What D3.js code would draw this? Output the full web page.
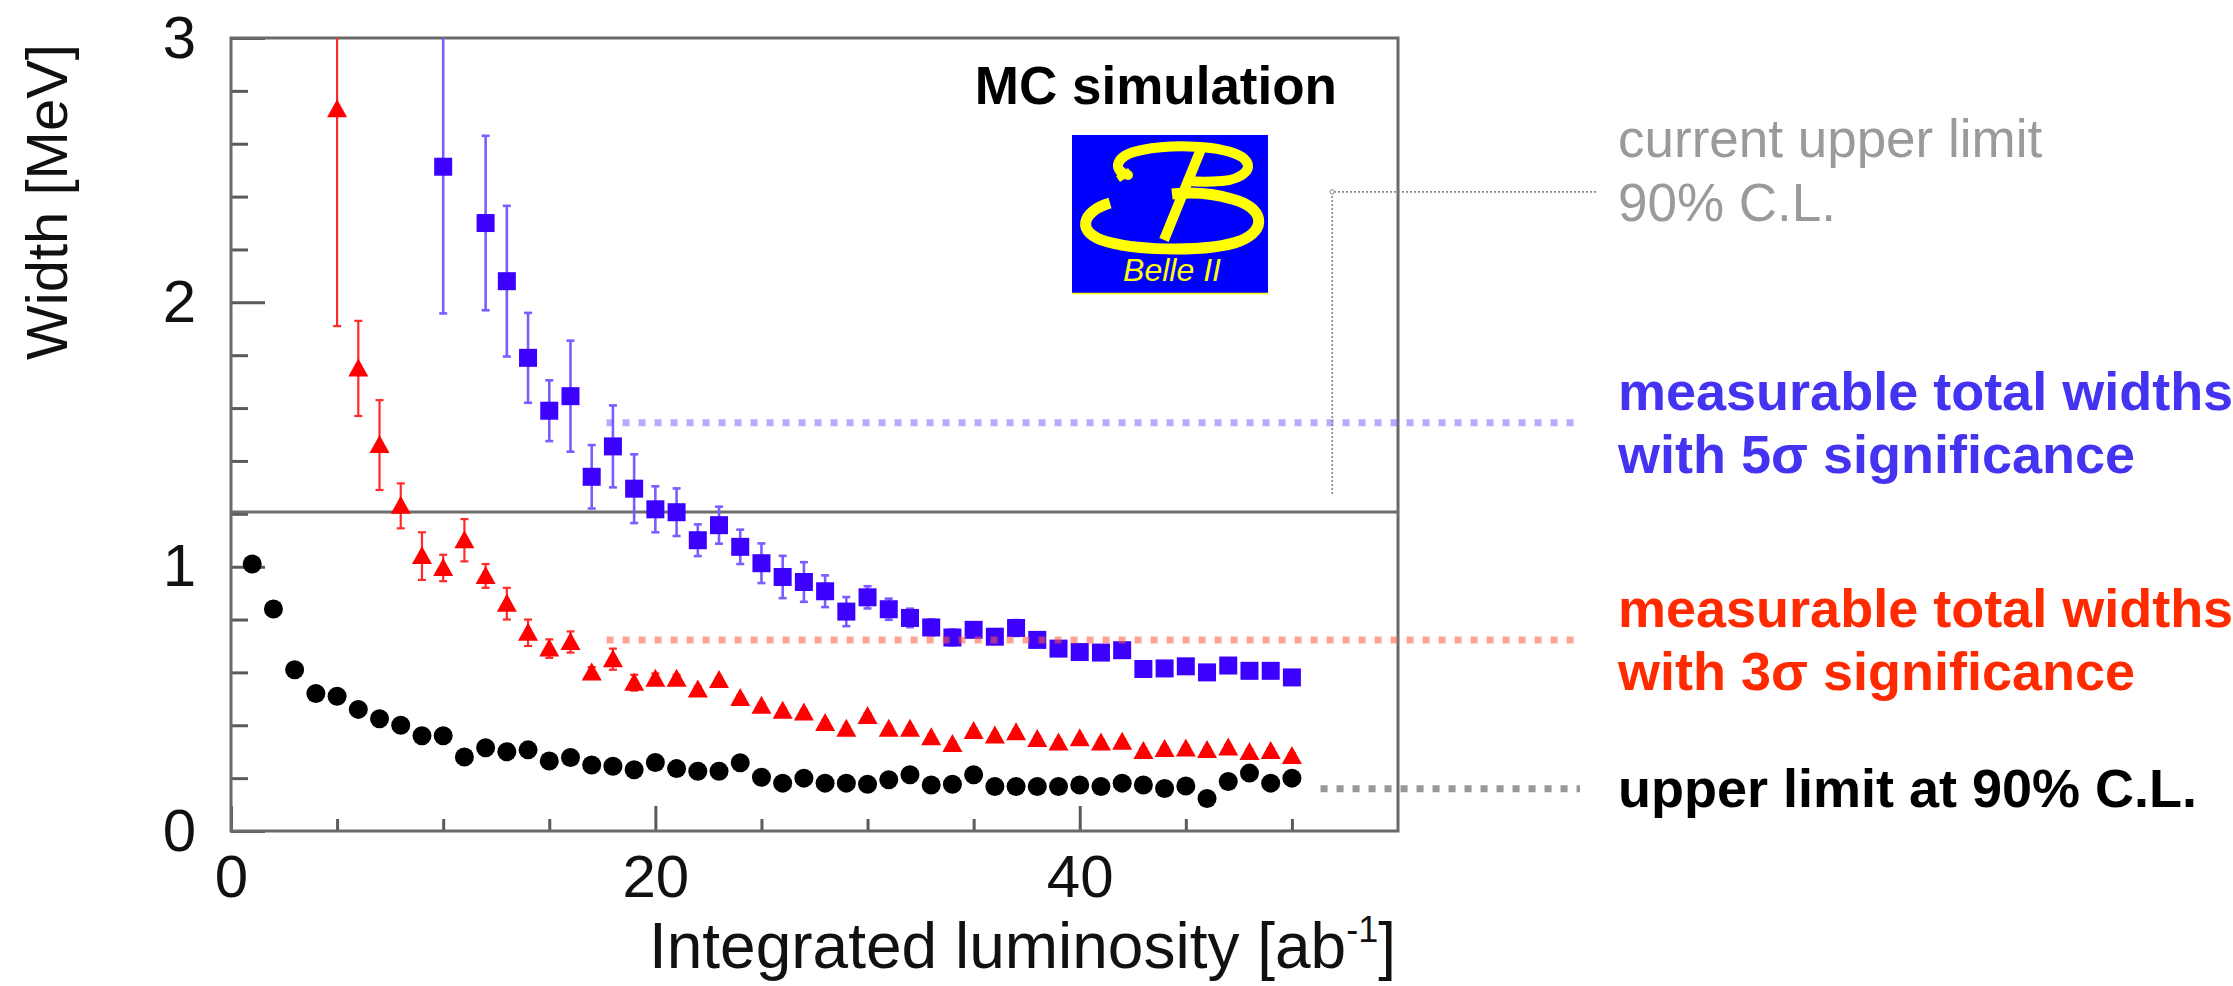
<!DOCTYPE html>
<html>
<head>
<meta charset="utf-8">
<script src="https://cdn.jsdelivr.net/npm/d3@7"></script>
<style>
  body { margin: 0; background: #fff; }
  svg { display: block; }
  text { font-family: "Liberation Sans", Arial, Helvetica, sans-serif; }
</style>
</head>
<body>
<svg id="chart" width="2233" height="986"></svg>
<script>
// integrated luminosity [ab^-1] of each toy point
const lumi = [1, 2, 3, 4, 5, 6, 7, 8, 9, 10, 11, 12, 13, 14, 15, 16, 17, 18, 19, 20,
              21, 22, 23, 24, 25, 26, 27, 28, 29, 30, 31, 32, 33, 34, 35, 36, 37, 38, 39, 40,
              41, 42, 43, 44, 45, 46, 47, 48, 49, 50];

// upper limit at 90% C.L. (black circles)
const upperLimit = [1.01, 0.84, 0.61, 0.52, 0.51, 0.46, 0.425, 0.40, 0.36, 0.36,
                    0.28, 0.315, 0.30, 0.307, 0.265, 0.278, 0.25, 0.245, 0.232, 0.259,
                    0.236, 0.226, 0.226, 0.258, 0.203, 0.181, 0.20, 0.181, 0.181, 0.177,
                    0.194, 0.213, 0.174, 0.177, 0.213, 0.168, 0.168, 0.168, 0.168, 0.174,
                    0.168, 0.181, 0.174, 0.161, 0.17, 0.123, 0.187, 0.219, 0.181, 0.20];

// measurable width with 3 sigma (red triangles); null = off scale
const width3s = [null, null, null, null, 2.73, 1.75, 1.46, 1.23, 1.04, 0.995,
                 1.10, 0.965, 0.86, 0.75, 0.69, 0.715, 0.60, 0.65, 0.561, 0.576,
                 0.576, 0.535, 0.571, 0.503, 0.474, 0.455, 0.448, 0.409, 0.387, 0.435,
                 0.387, 0.387, 0.355, 0.329, 0.378, 0.361, 0.374, 0.348, 0.335, 0.351,
                 0.335, 0.338, 0.303, 0.31, 0.312, 0.306, 0.316, 0.299, 0.303, 0.284];
const width3sErr = [0, 0, 0, 0, 0.82, 0.18, 0.17, 0.085, 0.09, 0.05,
                    0.08, 0.045, 0.06, 0.05, 0.035, 0.04, 0.02, 0.04, 0.03, 0.02,
                    0.015, 0.012, 0.01, 0.01, 0.01, 0.01, 0.01, 0.01, 0.01, 0.01,
                    0.01, 0.01, 0.01, 0.01, 0.01, 0.01, 0.01, 0.01, 0.01, 0.01,
                    0.01, 0.01, 0.01, 0.01, 0.01, 0.01, 0.01, 0.01, 0.01, 0.01];

// measurable width with 5 sigma (blue squares)
const width5s = [null, null, null, null, null, null, null, null, null, 2.513,
                 null, 2.30, 2.08, 1.79, 1.59, 1.645, 1.34, 1.455, 1.295, 1.217,
                 1.206, 1.10, 1.157, 1.075, 1.013, 0.961, 0.942, 0.907, 0.83, 0.884,
                 0.839, 0.806, 0.77, 0.732, 0.761, 0.735, 0.768, 0.723, 0.69, 0.677,
                 0.675, 0.684, 0.613, 0.615, 0.623, 0.60, 0.626, 0.606, 0.606, 0.581];
const width5sErr = [0, 0, 0, 0, 0, 0, 0, 0, 0, 0.555,
                    0, 0.33, 0.285, 0.17, 0.115, 0.21, 0.12, 0.155, 0.13, 0.087,
                    0.09, 0.06, 0.07, 0.065, 0.075, 0.08, 0.075, 0.06, 0.055, 0.042,
                    0.04, 0.035, 0.03, 0.03, 0.025, 0.02, 0.03, 0.02, 0.015, 0.015,
                    0.015, 0.012, 0.01, 0.01, 0.01, 0.01, 0.01, 0.01, 0.01, 0.01];

const currentLimit = 1.207;          // current upper limit 90% C.L. [MeV]
const level5s = 1.544;               // dotted guide levels
const level3s = 0.723;
const levelUL = 0.16;

const xMajorTicks = [0, 20, 40];
const xMinorTicks = [5, 10, 15, 25, 30, 35, 45, 50];
const yMajorTicks = [0, 1, 2, 3];
const yMinorTicks = [0.2, 0.4, 0.6, 0.8, 1.2, 1.4, 1.6, 1.8, 2.2, 2.4, 2.6, 2.8];

const svg = d3.select("#chart");
svg.append("rect").attr("width", 2233).attr("height", 986).attr("fill", "#fff");

const x = d3.scaleLinear().domain([0, 55]).range([231, 1398]);
const y = d3.scaleLinear().domain([0, 3]).range([831, 38]);

const axisColor = "#5a5a5a";

// --- axes (ticks point into the frame, ROOT style) ---
const gy = svg.append("g").attr("transform", `translate(${x(0)},0)`);
gy.call(d3.axisLeft(y).tickValues(yMajorTicks).tickSizeInner(-34).tickSizeOuter(0)
        .tickPadding(35).tickFormat(d3.format("d")));
gy.append("g").call(d3.axisLeft(y).tickValues(yMinorTicks).tickSizeInner(-17)
        .tickSizeOuter(0).tickFormat(""));

const gx = svg.append("g").attr("transform", `translate(0,${y(0)})`);
gx.call(d3.axisBottom(x).tickValues(xMajorTicks).tickSizeInner(-25).tickSizeOuter(0)
        .tickPadding(23).tickFormat(d3.format("d")));
gx.append("g").call(d3.axisBottom(x).tickValues(xMinorTicks).tickSizeInner(-12)
        .tickSizeOuter(0).tickFormat(""));

svg.selectAll(".domain").remove();
svg.selectAll(".tick line").attr("stroke", axisColor).attr("stroke-width", 3);
svg.selectAll(".tick text").attr("font-size", 60).attr("fill", "#111")
   .attr("font-family", "'Liberation Sans', Arial, sans-serif");

// frame
svg.append("rect")
   .attr("x", x(0)).attr("y", y(3))
   .attr("width", x(55) - x(0)).attr("height", y(0) - y(3))
   .attr("fill", "none").attr("stroke", "#6a6a6a").attr("stroke-width", 3);

// axis titles
svg.append("text")
   .attr("transform", "translate(67,202) rotate(-90)")
   .attr("text-anchor", "middle").attr("font-size", 58).attr("fill", "#111")
   .text("Width [MeV]");

const xt = svg.append("text")
   .attr("x", x(55) - 2).attr("y", 968).attr("text-anchor", "end")
   .attr("font-size", 64).attr("fill", "#111");
xt.append("tspan").text("Integrated luminosity [ab");
xt.append("tspan").attr("font-size", 36).attr("dy", -26).text("-1");
xt.append("tspan").attr("dy", 26).text("]");

// current upper limit line
svg.append("line")
   .attr("x1", x(0)).attr("x2", x(55))
   .attr("y1", y(currentLimit)).attr("y2", y(currentLimit))
   .attr("stroke", "#6e6e6e").attr("stroke-width", 3);

// --- data points ---
const plot = svg.append("g");

function pts(vals, errs) {
  return lumi.map((l, i) => ({ l, v: vals[i], e: errs ? errs[i] : 0 }))
             .filter(d => d.v !== null);
}

function errorBars(data, color, width) {
  const g = plot.append("g").attr("stroke", color).attr("stroke-width", width);
  data.filter(d => d.e > 0).forEach(d => {
    const top = Math.min(d.v + d.e, 3);
    const bot = d.v - d.e;
    g.append("line").attr("x1", x(d.l)).attr("x2", x(d.l))
     .attr("y1", y(top)).attr("y2", y(bot));
    if (d.v + d.e < 3) {
      g.append("line").attr("x1", x(d.l) - 4).attr("x2", x(d.l) + 4)
       .attr("y1", y(top)).attr("y2", y(top));
    }
    g.append("line").attr("x1", x(d.l) - 4).attr("x2", x(d.l) + 4)
     .attr("y1", y(bot)).attr("y2", y(bot));
  });
}

const red = pts(width3s, width3sErr);
const blue = pts(width5s, width5sErr);
const black = pts(upperLimit);

errorBars(red, "#ff2a2a", 2.2);
errorBars(blue, "#7a5cff", 2.6);

plot.append("g").selectAll("path").data(red).join("path")
    .attr("d", d => `M${x(d.l)},${y(d.v) - 10} L${x(d.l) + 10},${y(d.v) + 8} L${x(d.l) - 10},${y(d.v) + 8} Z`)
    .attr("fill", "#ff0000");

plot.append("g").selectAll("rect").data(blue).join("rect")
    .attr("x", d => x(d.l) - 9).attr("y", d => y(d.v) - 9)
    .attr("width", 18).attr("height", 18)
    .attr("fill", "#3c00ff");

plot.append("g").selectAll("circle").data(black).join("circle")
    .attr("cx", d => x(d.l)).attr("cy", d => y(d.v)).attr("r", 9.5)
    .attr("fill", "#000");

// --- guide lines to the annotations ---
const guides = [
  { level: level5s, from: 17.7, color: "#6a5cff", op: 0.5 },
  { level: level3s, from: 17.7, color: "#ff5a3c", op: 0.55 },
  { level: levelUL, from: 51.35, color: "#999", op: 1 }
];
svg.append("g").selectAll("line").data(guides).join("line")
   .attr("x1", d => x(d.from)).attr("x2", 1580)
   .attr("y1", d => y(d.level)).attr("y2", d => y(d.level))
   .attr("stroke", d => d.color).attr("stroke-opacity", d => d.op)
   .attr("stroke-width", 7).attr("stroke-dasharray", "7 9");

// thin dotted connector for the current limit
const cx0 = x(51.9), cy0 = y(2.418);
svg.append("path")
   .attr("d", `M1596,${cy0} H${cx0} V${y(1.275)}`)
   .attr("fill", "none").attr("stroke", "#8a8a8a").attr("stroke-width", 1.6)
   .attr("stroke-dasharray", "2 2");
svg.append("circle").attr("cx", cx0).attr("cy", cy0).attr("r", 2.2)
   .attr("fill", "#fff").attr("stroke", "#8a8a8a").attr("stroke-width", 1);

// --- MC simulation label and Belle II logo ---
svg.append("text").attr("x", 1337).attr("y", 104).attr("text-anchor", "end")
   .attr("font-size", 53).attr("font-weight", "bold").attr("fill", "#000")
   .text("MC simulation");

const logo = svg.append("g").attr("transform", "translate(1072,135)");
logo.append("rect").attr("width", 196).attr("height", 159).attr("fill", "#0000ff");
logo.append("line").attr("x1", 0).attr("x2", 196).attr("y1", 158.5).attr("y2", 158.5)
    .attr("stroke", "#ffff00").attr("stroke-width", 1.5);
const yel = "#ffff00";
// upper bowl with its little hook on the left
logo.append("path")
    .attr("d", "M56,40 C40,36 42,20 70,15 C100,9 150,10 170,22 C184,32 172,44 150,46 C138,47 126,47 116,46")
    .attr("fill", "none").attr("stroke", yel).attr("stroke-width", 10).attr("stroke-linecap", "round");
logo.append("path")
    .attr("d", "M58,36 L46,44")
    .attr("fill", "none").attr("stroke", yel).attr("stroke-width", 7);
// slanted stem
logo.append("path")
    .attr("d", "M129,14 L92,105")
    .attr("fill", "none").attr("stroke", yel).attr("stroke-width", 10);
// lower bowl
logo.append("path")
    .attr("d", "M38,68 C10,76 2,98 36,107 C70,116 138,117 168,106 C196,95 192,72 160,64 C140,58 118,57 100,59")
    .attr("fill", "none").attr("stroke", yel).attr("stroke-width", 11);
logo.append("text").attr("x", 100).attr("y", 146).attr("text-anchor", "middle")
    .attr("font-size", 32).attr("font-style", "italic").attr("fill", yel)
    .text("Belle II");

// --- right side annotations ---
const notes = [
  { lines: ["current upper limit", "90% C.L."], y0: 157, dy: 64, color: "#9a9a9a", bold: false },
  { lines: ["measurable total widths", "with 5σ significance"], y0: 410, dy: 63, color: "#4433f0", bold: true },
  { lines: ["measurable total widths", "with 3σ significance"], y0: 627, dy: 63, color: "#ff2a00", bold: true },
  { lines: ["upper limit at 90% C.L."], y0: 807, dy: 0, color: "#000", bold: true }
];
notes.forEach(n => {
  n.lines.forEach((t, i) => {
    svg.append("text").attr("x", 1618).attr("y", n.y0 + i * n.dy)
       .attr("font-size", n.bold ? 54 : 53)
       .attr("font-weight", n.bold ? "bold" : "normal")
       .attr("fill", n.color).text(t);
  });
});
</script>
</body>
</html>
